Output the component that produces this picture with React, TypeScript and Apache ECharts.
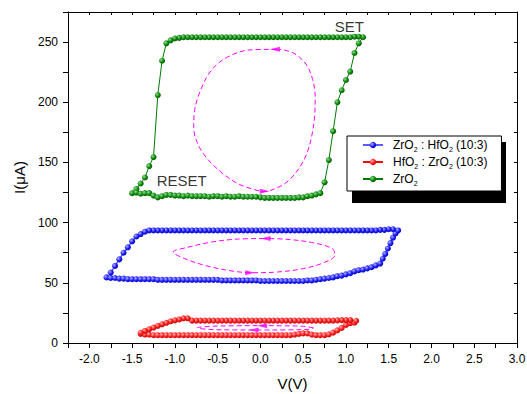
import React, { useEffect, useRef } from 'react';
import * as echarts from 'echarts';

const FONT = "'Liberation Sans', Arial, Helvetica, sans-serif";

// ---------- axis settings ----------
const xMin = -2.25;
const xMax = 3.0;
const xStep = 0.25;
const yMin = 0;
const yMax = 275;
const yStep = 25;

// ---------- legend names ----------
const nameBlue = 'ZrO2 : HfO2 (10:3)';
const nameRed = 'HfO2 : ZrO2 (10:3)';
const nameGreen = 'ZrO2';

// ---------- ZrO2 (green) loop, in sweep order ----------
const greenV = [
  0.0, 0.05, 0.1, 0.15, 0.2, 0.25, 0.3, 0.35, 0.4, 0.45, 0.5, 0.55, 0.6, 0.65, 0.7,
  0.75, 0.8, 0.85, 0.9, 0.95, 1.0, 1.05, 1.1, 1.15, 1.2,
  1.15, 1.1, 1.05, 1.0, 0.95, 0.9, 0.85, 0.8, 0.75, 0.7, 0.65, 0.6, 0.55, 0.5, 0.45, 0.4, 0.35, 0.3,
  0.25, 0.2, 0.15, 0.1, 0.05, 0.0, -0.05, -0.1, -0.15, -0.2, -0.25, -0.3, -0.35, -0.4, -0.45, -0.5,
  -0.55, -0.6, -0.65, -0.7, -0.75, -0.8, -0.85, -0.9, -0.95, -1.0, -1.05,
  -1.1, -1.15, -1.2, -1.25, -1.3, -1.35, -1.4, -1.45,
  -1.5, -1.45, -1.4, -1.35, -1.3, -1.25, -1.2, -1.15, -1.1, -1.05, -1.0, -0.95, -0.9, -0.85, -0.8,
  -0.75, -0.7, -0.65, -0.6, -0.55, -0.5, -0.45, -0.4, -0.35, -0.3, -0.25, -0.2, -0.15, -0.1, -0.05,
];
const greenI = [
  121, 120.5, 120.5, 120.5, 120.5, 120.5, 120.5, 120.5, 120.5, 121, 121, 122, 122.5, 123.5, 124.5,
  133.5, 152, 176, 200, 210, 218.5, 225.5, 241, 249, 254,
  254.5, 254.5, 254, 254, 254, 254, 254, 254, 254, 254, 254, 254, 254, 254, 254, 254, 254, 254,
  254, 254, 254, 254, 254, 254, 254, 254, 254, 254, 254, 254, 254, 254, 254, 254,
  254, 254, 254, 254, 254, 254, 254, 254, 253.5, 253, 251.5,
  249, 234.5, 206, 154.5, 147, 137.5, 132.5, 128,
  124.5, 125, 124, 124.5, 124.5, 122.5, 121, 122, 123, 123, 122.5, 122.5, 122, 122.5, 122,
  122, 122, 122, 121.5, 122, 122, 121.5, 122, 121.5, 121.5, 122, 121.5, 121.5, 121.5, 121.5,
];

// ---------- ZrO2 : HfO2 (blue) loop, in sweep order ----------
const blueV = [
  -1.8, -1.75, -1.7, -1.65, -1.6, -1.55, -1.5, -1.45, -1.4, -1.35, -1.3, -1.25, -1.2, -1.15, -1.1,
  -1.05, -1.0, -0.95, -0.9, -0.85, -0.8, -0.75, -0.7, -0.65, -0.6, -0.55, -0.5, -0.45, -0.4, -0.35,
  -0.3, -0.25, -0.2, -0.15, -0.1, -0.05, 0.0, 0.05, 0.1, 0.15, 0.2, 0.25, 0.3, 0.35, 0.4, 0.45, 0.5,
  0.55, 0.6, 0.65, 0.7, 0.75, 0.8, 0.85, 0.9, 0.95, 1.0, 1.05, 1.1, 1.15, 1.2, 1.25, 1.3, 1.35, 1.4,
  1.43, 1.46, 1.49, 1.52, 1.55, 1.58, 1.61,
  1.55, 1.5, 1.45, 1.4, 1.35, 1.3, 1.25, 1.2, 1.15, 1.1, 1.05, 1.0, 0.95, 0.9, 0.85, 0.8, 0.75, 0.7,
  0.65, 0.6, 0.55, 0.5, 0.45, 0.4, 0.35, 0.3, 0.25, 0.2, 0.15, 0.1, 0.05, 0.0, -0.05, -0.1, -0.15,
  -0.2, -0.25, -0.3, -0.35, -0.4, -0.45, -0.5, -0.55, -0.6, -0.65, -0.7, -0.75, -0.8, -0.85, -0.9,
  -0.95, -1.0, -1.05, -1.1, -1.15, -1.2, -1.25, -1.3,
  -1.35, -1.4, -1.45, -1.5, -1.55, -1.6, -1.65, -1.7, -1.75,
];
const blueI = [
  54.5, 54, 54, 53.5, 53.5, 53, 53, 53, 53, 53, 53, 53, 52.5, 52.5, 52.5,
  52.5, 52.5, 52.5, 52.5, 52.5, 52.5, 52.5, 52.5, 52.5, 52.5, 52.5, 52.5, 52, 52, 52,
  52, 52, 52, 52, 52, 52, 51.5, 51.5, 51.5, 51.5, 51.5, 51.5, 51.5, 51.5, 51.5, 51.5, 51.5,
  52, 52, 52.5, 53, 53.5, 54, 54.5, 55.5, 56, 57, 58, 59.5, 60.5, 61, 62, 63, 64.5, 66,
  70, 74, 78.5, 83, 87.5, 91, 93.5,
  94.5, 94.5, 94, 94, 93.5, 93.5, 93.5, 93.5, 93.5, 93.5, 93.5, 93.5, 93.5, 93.5, 93.5, 93.5, 93.5, 93.5,
  93.5, 93.5, 93.5, 93.5, 93.5, 93.5, 93.5, 93.5, 93.5, 93.5, 93.5, 93.5, 93.5, 93.5, 93.5, 93.5, 93.5,
  93.5, 93.5, 93.5, 93.5, 93.5, 93.5, 93.5, 93.5, 93.5, 93.5, 93.5, 93.5, 93.5, 93.5, 93.5,
  93.5, 93.5, 93.5, 93.5, 93.5, 93.5, 93.5, 93.5,
  92.5, 90.5, 88.5, 84.5, 79.5, 75, 69.5, 64, 58.5,
];

// ---------- HfO2 : ZrO2 (red) loop, in sweep order ----------
const redV = [
  -1.4, -1.35, -1.3, -1.25, -1.2, -1.15, -1.1, -1.05, -1.0, -0.95, -0.9, -0.85, -0.8, -0.75, -0.7,
  -0.65, -0.6, -0.55, -0.5, -0.45, -0.4, -0.35, -0.3, -0.25, -0.2, -0.15, -0.1, -0.05, 0.0, 0.05,
  0.1, 0.15, 0.2, 0.25, 0.3, 0.35, 0.4, 0.45, 0.5, 0.55, 0.6, 0.65, 0.7, 0.75, 0.8, 0.85,
  0.9, 0.95, 1.0, 1.05, 1.1, 1.12,
  1.05, 1.0, 0.95, 0.9, 0.85, 0.8, 0.75, 0.7, 0.65, 0.6, 0.55, 0.5, 0.45, 0.4, 0.35, 0.3, 0.25,
  0.2, 0.15, 0.1, 0.05, 0.0, -0.05, -0.1, -0.15, -0.2, -0.25, -0.3, -0.35, -0.4, -0.45, -0.5, -0.55,
  -0.6, -0.65, -0.7, -0.75, -0.8,
  -0.85, -0.9, -0.95, -1.0, -1.05, -1.1, -1.15, -1.2, -1.25, -1.3, -1.35, -1.4,
];
const redI = [
  7.5, 7, 7, 6.5, 6.5, 6.5, 6.5, 6.5, 6.5, 6.5, 6.5, 6.5, 6.5, 6.5, 6.5,
  6.5, 6.5, 6.5, 6.5, 6.5, 6.5, 6.5, 6.5, 6.5, 6.5, 6.5, 6.5, 6.5, 6.5, 6.5,
  6.5, 6.5, 6.5, 6.5, 6.5, 6.5, 7, 7.5, 8, 8, 7, 6.5, 6.5, 6.5, 7.2, 8.6,
  10.5, 12.5, 15, 16.5, 17, 18.5,
  19, 19, 19, 18.8, 18.6, 18.6, 18.6, 18.6, 18.6, 18.6, 18.6, 18.6, 18.6, 18.6, 18.6, 18.6, 18.6,
  18.6, 18.6, 18.6, 18.6, 18.6, 18.6, 18.6, 18.6, 18.6, 18.6, 18.6, 18.6, 18.6, 18.6, 18.6, 18.6,
  18.6, 18.6, 18.6, 18.6, 18.6,
  20.5, 20.5, 19.6, 18.8, 18, 16.8, 15.5, 14.2, 12.8, 11.5, 10, 8.5,
];

// ---------- magenta guide loops (sweep direction) ----------
const guideGreen = [
  [0.19, 244], [-0.12, 243.5], [-0.4, 237], [-0.58, 226], [-0.7, 210], [-0.77, 193], [-0.78, 179],
  [-0.73, 165], [-0.62, 153], [-0.46, 142], [-0.28, 133], [-0.1, 128], [0.04, 126], [0.2, 129],
  [0.33, 135], [0.45, 145], [0.54, 157], [0.6, 172], [0.635, 190], [0.64, 205], [0.61, 219],
  [0.54, 231], [0.42, 239.5], [0.3, 243], [0.19, 244],
];
const guideBlue = [
  [0.04, 86.8], [-0.3, 86.2], [-0.6, 83.5], [-0.85, 79.5], [-1.02, 75.6], [-0.9, 70.5],
  [-0.65, 64.5], [-0.35, 60], [-0.1, 58.4], [0.2, 59], [0.5, 61.8], [0.75, 67], [0.87, 73],
  [0.84, 78.5], [0.6, 83.5], [0.3, 86.2], [0.04, 86.8],
];
const guideRed = [
  [0.62, 12.5], [0.5, 13.9], [0.25, 14.3], [0.0, 14.4], [-0.3, 14.3], [-0.6, 13.8], [-0.74, 12.6],
  [-0.6, 11.3], [-0.3, 10.9], [0.0, 10.8], [0.3, 10.9], [0.55, 11.3], [0.62, 12.5],
];
// arrow heads: [V, I, rotation]
const arrows = [
  [0.17, 244, 90], [0.05, 126, -90],
  [0.06, 86.8, 90], [-0.12, 58.4, -90],
  [0.02, 14.4, 90], [-0.08, 10.8, 90],
];

// ---------- annotations ----------
const notes = [
  { text: 'SET', v: 1.04, i: 263 },
  { text: 'RESET', v: -0.92, i: 135 },
];

const pairs = (v: number[], i: number[]) => v.map((x, k) => [x, i[k]]);

const ball = (light: string, base: string, dark: string) => ({
  type: 'radial', x: 0.35, y: 0.35, r: 0.75,
  colorStops: [
    { offset: 0, color: light },
    { offset: 0.55, color: base },
    { offset: 1, color: dark },
  ],
});

const legendRich: Record<string, string> = {
  [nameBlue]: '{t|ZrO}{s|2}{t| : HfO}{s|2}{t| (10:3)}',
  [nameRed]: '{t|HfO}{s|2}{t| : ZrO}{s|2}{t| (10:3)}',
  [nameGreen]: '{t|ZrO}{s|2}',
};

export default function App() {
  const ref = useRef<HTMLDivElement>(null);

  useEffect(() => {
    if (!ref.current) return;
    const chart = echarts.init(ref.current, undefined, { renderer: 'svg' });

    const xLabel = (v: number) => {
      const d = v * 2;
      return Math.abs(d - Math.round(d)) < 1e-6 ? v.toFixed(1) : '';
    };
    const yLabel = (v: number) => (Math.round(v) % 50 === 0 ? String(Math.round(v)) : '');

    const lineSeries = (name: string, data: number[][], lineColor: string, lw: number, color: any) => ({
      name,
      type: 'line',
      data,
      symbol: 'circle',
      symbolSize: 6,
      showSymbol: true,
      itemStyle: { color, borderWidth: 0 },
      lineStyle: { color: lineColor, width: lw },
      emphasis: { disabled: true },
      z: 3,
    });

    const guide = (name: string, data: number[][]) => ({
      name,
      type: 'line',
      data,
      smooth: 0.35,
      symbol: 'none',
      lineStyle: { color: '#ff00ff', width: 1, type: [5, 3] },
      silent: true,
      z: 4,
    });

    const axisLine = { show: true, onZero: false, lineStyle: { color: '#000', width: 1 } };

    const option: any = {
      animation: false,
      backgroundColor: '#fff',
      textStyle: { fontFamily: FONT },
      grid: { left: 68, right: 10, top: 12, bottom: 51, containLabel: false, outerBoundsMode: 'none' },
      xAxis: [
        {
          type: 'value', min: xMin, max: xMax, interval: xStep,
          name: 'V(V)', nameLocation: 'middle', nameGap: 33,
          nameTextStyle: { fontSize: 15, color: '#000', fontFamily: FONT },
          axisLine,
          axisTick: { show: true, inside: false, length: 5, lineStyle: { color: '#000' } },
          axisLabel: { formatter: xLabel, interval: 0, fontSize: 12, color: '#000', margin: 10, fontFamily: FONT },
          splitLine: { show: false },
        },
        {
          type: 'value', min: xMin, max: xMax, interval: xStep, position: 'top',
          axisLine,
          axisTick: { show: true, inside: true, length: 3, lineStyle: { color: '#000' } },
          axisLabel: { show: false },
          splitLine: { show: false },
        },
      ],
      yAxis: [
        {
          type: 'value', min: yMin, max: yMax, interval: yStep,
          name: 'I(\u03bcA)', nameLocation: 'middle', nameGap: 40,
          nameTextStyle: { fontSize: 15, color: '#000', fontFamily: FONT },
          axisLine,
          axisTick: { show: true, inside: false, length: 5, lineStyle: { color: '#000' } },
          axisLabel: { formatter: yLabel, interval: 0, fontSize: 12, color: '#000', margin: 10, fontFamily: FONT },
          splitLine: { show: false },
        },
        {
          type: 'value', min: yMin, max: yMax, interval: yStep, position: 'right',
          axisLine,
          axisTick: { show: true, inside: true, length: 3, lineStyle: { color: '#000' } },
          axisLabel: { show: false },
          splitLine: { show: false },
        },
      ],
      legend: {
        data: [nameBlue, nameRed, nameGreen],
        orient: 'vertical',
        left: 347,
        top: 136,
        padding: [3, 14, 4, 15],
        itemGap: 3,
        itemWidth: 20,
        itemHeight: 8,
        backgroundColor: '#fff',
        borderColor: '#000',
        borderWidth: 1,
        z: 10,
        selectedMode: false,
        formatter: (n: string) => legendRich[n] || n,
        textStyle: {
          padding: [0, 0, 0, 5],
          rich: {
            t: { fontSize: 12, lineHeight: 16, color: '#000', fontFamily: FONT },
            s: { fontSize: 7, lineHeight: 6, verticalAlign: 'bottom', color: '#000', fontFamily: FONT },
          },
        },
      },
      graphic: [
        { type: 'rect', z: 5, zlevel: 0, shape: { x: 352, y: 142, width: 154, height: 61 }, style: { fill: '#000' }, silent: true },
      ],
      series: [
        lineSeries(nameBlue, pairs(blueV, blueI), '#5a5aff', 1.5, ball('#b0b0ff', '#1a1aff', '#0000a8')),
        lineSeries(nameRed, pairs(redV, redI), '#ff0000', 1, ball('#ffb0b0', '#ff1a1a', '#b00000')),
        lineSeries(nameGreen, pairs(greenV, greenI), '#007a00', 1, ball('#8fd88f', '#0a8a0a', '#004f00')),
        guide('guideGreen', guideGreen),
        guide('guideBlue', guideBlue),
        guide('guideRed', guideRed),
        {
          name: 'arrows',
          type: 'scatter',
          symbol: 'triangle',
          symbolSize: [5, 10],
          itemStyle: { color: '#ff00ff' },
          silent: true,
          z: 5,
          data: arrows.map((a) => ({ value: [a[0], a[1]], symbolRotate: a[2] })),
        },
        {
          name: 'notes',
          type: 'scatter',
          symbolSize: 0,
          silent: true,
          z: 6,
          data: notes.map((n) => ({ value: [n.v, n.i], name: n.text })),
          label: {
            show: true,
            position: 'inside',
            formatter: (p: any) => p.name,
            fontSize: 15,
            color: '#000',
            fontFamily: FONT,
          },
        },
      ],
    };

    chart.setOption(option);
    return () => chart.dispose();
  }, []);

  return <div ref={ref} style={{ width: 527, height: 394, position: 'absolute', left: 0, top: 0 }} />;
}
